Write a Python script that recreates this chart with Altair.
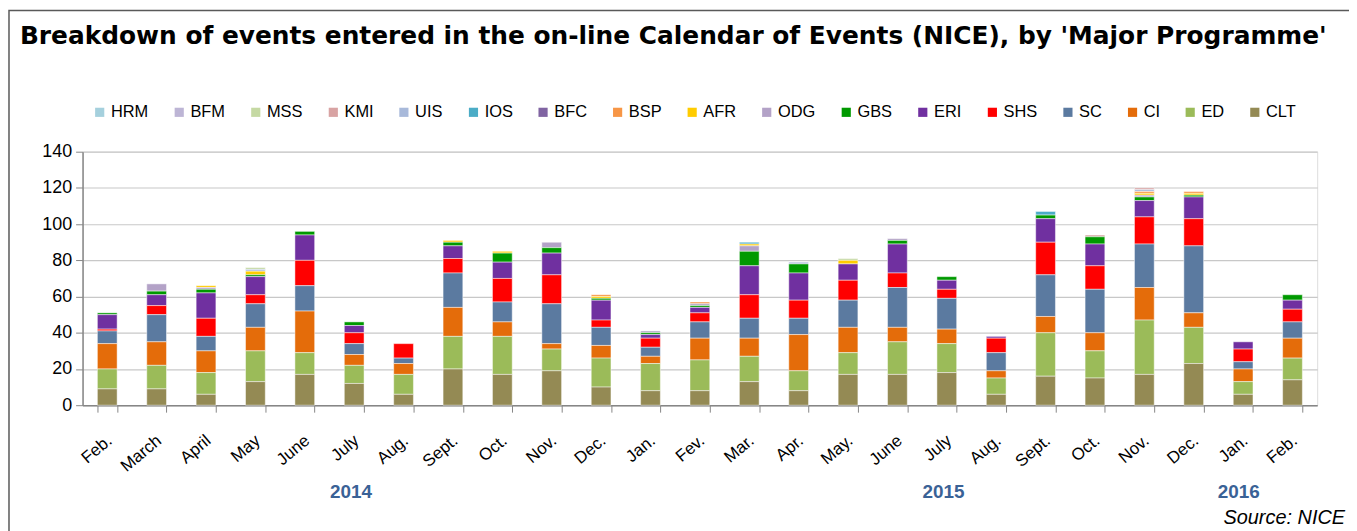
import altair as alt
import pandas as pd

months = ["Feb.", "March", "April", "May", "June", "July", "Aug.", "Sept.", "Oct.", "Nov.",
          "Dec.", "Jan.", "Fev.", "Mar.", "Apr.", "May.", "June", "July", "Aug.", "Sept.",
          "Oct.", "Nov.", "Dec.", "Jan.", "Feb."]

programmes = ["HRM", "BFM", "MSS", "KMI", "UIS", "IOS", "BFC", "BSP", "AFR", "ODG",
              "GBS", "ERI", "SHS", "SC", "CI", "ED", "CLT"]
colors = ["#a5d0dd", "#bdb5d5", "#c5d9a3", "#d8a3a3", "#a8b9da", "#4bacc6", "#8064a2",
          "#f79646", "#ffcc00", "#b3a2c7", "#009900", "#7030a0", "#ff0000", "#5b7aa0",
          "#e46c0a", "#9bbb59", "#948a54"]

CLT = [9, 9, 6, 13, 17, 12, 6, 20, 17, 19, 10, 8, 8, 13, 8, 17, 17, 18, 6, 16, 15, 17, 23, 6, 14]
ED = [11, 13, 12, 17, 12, 10, 11, 18, 21, 12, 16, 15, 17, 14, 11, 12, 18, 16, 9, 24, 15, 30, 20, 7, 12]
CI = [14, 13, 12, 13, 23, 6, 6, 16, 8, 3, 7, 4, 12, 10, 20, 14, 8, 8, 4, 9, 10, 18, 8, 7, 11]
SC = [7, 15, 8, 13, 14, 6, 3, 19, 11, 22, 10, 5, 9, 11, 9, 15, 22, 17, 10, 23, 24, 24, 37, 4, 9]
SHS = [1, 5, 10, 5, 14, 6, 8, 8, 13, 16, 4, 5, 5, 13, 10, 11, 8, 5, 8, 18, 13, 15, 15, 7, 7]
ERI = [8, 6, 14, 10, 14, 4, 0, 7, 9, 12, 11, 2, 3, 16, 15, 9, 16, 5, 1, 13, 12, 9, 12, 4, 5]
GBS = [1, 2, 2, 1, 2, 2, 0, 2, 5, 3, 1, 1, 1, 8, 5, 0, 2, 2, 0, 2, 4, 2, 1, 0, 3]
ODG = [0, 4, 1, 0, 0, 0, 0, 0, 0, 3, 0, 1, 1, 3, 0, 0, 1, 0, 0, 0, 0, 1, 0, 0, 0]
AFR = [0, 0, 1, 2, 0, 0, 0, 1, 1, 0, 1, 0, 0, 1, 0, 2, 0, 0, 0, 0, 0, 1, 1, 0, 0]
BSP = [0, 0, 0, 0, 0, 0, 0, 0, 0, 0, 1, 0, 1, 0, 0, 0, 0, 0, 0, 0, 0, 1, 1, 0, 0]
BFC = [0] * 25
IOS = [0, 0, 0, 0, 0, 0, 0, 0, 0, 0, 0, 0, 0, 1, 0, 0, 0, 0, 0, 2, 0, 0, 0, 0, 0]
UIS = [0, 0, 0, 1, 0, 0, 0, 0, 0, 0, 0, 0, 0, 0, 1, 0, 0, 0, 0, 0, 0, 1, 0, 0, 0]
KMI = [0, 0, 0, 0, 0, 0, 0, 0, 0, 0, 0, 0, 0, 0, 0, 0, 0, 0, 0, 0, 1, 1, 0, 0, 0]
MSS = [0, 0, 0, 1, 0, 0, 0, 0, 0, 0, 0, 0, 0, 0, 0, 1, 0, 0, 0, 0, 0, 0, 0, 0, 0]
BFM = [0] * 25
HRM = [0] * 25

series = {"HRM": HRM, "BFM": BFM, "MSS": MSS, "KMI": KMI, "UIS": UIS, "IOS": IOS,
          "BFC": BFC, "BSP": BSP, "AFR": AFR, "ODG": ODG, "GBS": GBS, "ERI": ERI,
          "SHS": SHS, "SC": SC, "CI": CI, "ED": ED, "CLT": CLT}

years = ["2014", "2015", "2016"]
year_pos = [270, 866, 1163]
title_text = "Breakdown of events entered in the on-line Calendar of Events (NICE), by 'Major Programme'"
source_text = "Source: NICE"

keys = [f"{i:02d}|{m}" for i, m in enumerate(months)]
rows = []
for p, vals in series.items():
    order = len(programmes) - 1 - programmes.index(p)
    for k, v in zip(keys, vals):
        if v > 0:
            rows.append({"month": k, "prog": p, "value": v, "ord": order})
df = pd.DataFrame(rows)

FONT = "Liberation Sans"
W, H = 1242, 255

bars = alt.Chart(df).mark_bar(stroke="white", strokeWidth=0.6, strokeOpacity=0.8).encode(
    x=alt.X("month:N", sort=keys,
            scale=alt.Scale(paddingInner=0.6, paddingOuter=0.3),
            axis=alt.Axis(title=None, labelAngle=-40, labelAlign="right", labelBaseline="top",
                          labelExpr="split(datum.label, '|')[1]", labelFont=FONT,
                          labelFontSize=17, labelColor="#000000", labelPadding=20,
                          labelOffset=-3,
                          tickBand="extent", tickSize=7, tickColor="#868686",
                          domainColor="#868686", domainWidth=1.5, grid=False)),
    y=alt.Y("value:Q", stack="zero",
            scale=alt.Scale(domain=[0, 140], nice=False),
            axis=alt.Axis(title=None, values=list(range(0, 141, 20)), labelFont=FONT,
                          labelFontSize=18, labelColor="#000000", labelPadding=4,
                          tickSize=7, tickColor="#868686", domainColor="#868686",
                          domainWidth=1.5, gridColor="#c8c8c8", gridWidth=1.2)),
    color=alt.Color("prog:N", scale=alt.Scale(domain=programmes, range=colors),
                    legend=alt.Legend(title=None, orient="none", direction="horizontal",
                                      legendX=9, legendY=-48, symbolType="square",
                                      symbolSize=85, symbolStrokeWidth=0, labelFont=FONT,
                                      labelFontSize=16.5, labelColor="#000000",
                                      columnPadding=22, labelOffset=3, values=programmes)),
    order=alt.Order("ord:Q", sort="ascending"),
)

title_df = pd.DataFrame({"t": [title_text]})
title = alt.Chart(title_df).mark_text(
    font="DejaVu Sans", fontWeight="bold", fontSize=25, align="left", baseline="middle",
    color="#000000").encode(text="t:N", x=alt.value(-63), y=alt.value(-116))

year_df = pd.DataFrame({"year": years, "px": year_pos})
year_text = alt.Chart(year_df).mark_text(
    font=FONT, fontWeight="bold", fontSize=19, align="center", baseline="middle",
    color="#3a6296").encode(text="year:N", x=alt.X("px:Q", scale=None), y=alt.value(342))

src_df = pd.DataFrame({"t": [source_text]})
source = alt.Chart(src_df).mark_text(
    font=FONT, fontStyle="italic", fontSize=20, align="right", baseline="middle",
    color="#000000").encode(text="t:N", x=alt.value(1270), y=alt.value(369))

frame = alt.Chart(src_df).mark_rect(fill=None, stroke="#595959", strokeWidth=1.5).encode(
    x=alt.value(-74), x2=alt.value(1400), y=alt.value(-142), y2=alt.value(600))

chart = alt.layer(frame, bars, title, year_text, source).properties(
    width=W, height=H,
    autosize=alt.AutoSizeParams(type="none"),
    padding={"left": 75, "top": 143, "right": 32, "bottom": 125},
).configure_view(stroke=None).configure(background="white")

chart.save("out.html", embed_options={"renderer": "svg", "actions": False})
